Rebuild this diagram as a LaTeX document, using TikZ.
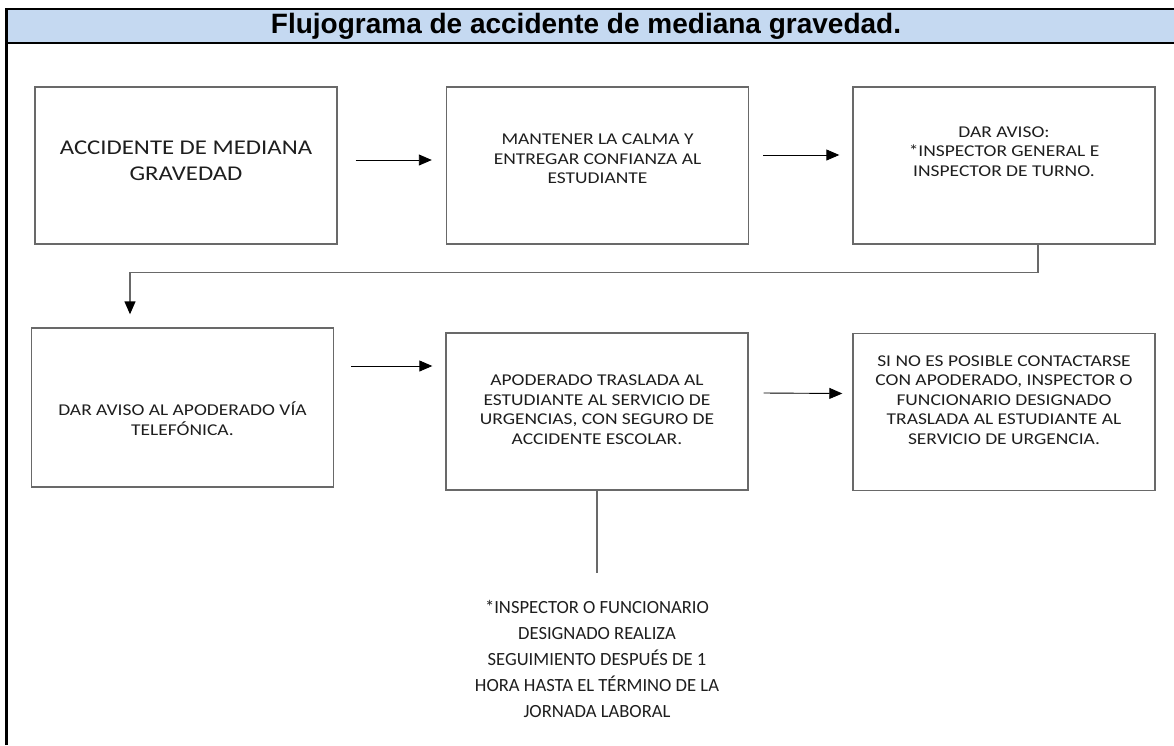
\documentclass[tikz,border=0pt]{standalone}
\usepackage{fontspec}
\setmainfont{Carlito}
\newfontfamily\fuentetitulo{Liberation Sans}
\newfontfamily\fuentecaja[FakeStretch=1.18]{Carlito}
\usepackage{tikz}
\usetikzlibrary{arrows.meta}
\definecolor{encabezado}{RGB}{197,217,241}
\definecolor{borde}{RGB}{105,105,105}
\definecolor{letra}{RGB}{30,30,30}

\begin{document}
\begin{tikzpicture}[x=1pt, y=-1pt,
    caja/.style={draw=borde, line width=1.4pt, minimum width=302pt, minimum height=157pt, inner sep=0pt},
    texto/.style={align=center, text=letra, inner sep=0pt, font=\fuentecaja\fontsize{16.5}{19.5}\selectfont},
    flecha/.style={line width=0.9pt, -{Triangle[length=13pt,width=11pt]}},
    linea/.style={draw=borde, line width=1.4pt}]
    \useasboundingbox (0,0) rectangle (1174,745);
    % encabezado
    \fill[encabezado] (6.5,9) rectangle (1174,43);
    \draw[line width=2.5pt] (6.5,745) -- (6.5,9) -- (1174,9);
    \draw[line width=2.5pt] (6.5,43) -- (1174,43);
    \node[font=\fuentetitulo\bfseries\fontsize{28}{30}\selectfont] (titulo) at (586,26) {Flujograma de accidente de mediana gravedad.};
    % primera fila
    \node[caja] (accidente) at (186,165.5) {};
    \node[texto, font=\fuentecaja\fontsize{21}{26}\selectfont] (taccidente) at ([yshift=4.5pt]accidente.center) {ACCIDENTE DE MEDIANA\\GRAVEDAD};
    \node[caja] (calma) at (597.5,165.5) {};
    \node[texto] (tcalma) at ([yshift=6.5pt]calma.center) {MANTENER LA CALMA Y\\ENTREGAR CONFIANZA AL\\ESTUDIANTE};
    \node[caja] (aviso) at (1004,165.5) {};
    \node[texto] (taviso) at ([yshift=14pt]aviso.center) {DAR AVISO:\\*INSPECTOR GENERAL E\\INSPECTOR DE TURNO.};
    % segunda fila
    \node[caja, minimum height=159pt] (apoderado) at (182.5,407.5) {};
    \node[texto] (tapoderado) at ([yshift=-11pt]apoderado.center) {DAR AVISO AL APODERADO V\'IA\\TELEF\'ONICA.};
    \node[caja] (traslado) at (597,411.5) {};
    \node[texto] (ttraslado) at ([yshift=2pt]traslado.center) {APODERADO TRASLADA AL\\ESTUDIANTE AL SERVICIO DE\\URGENCIAS, CON SEGURO DE\\ACCIDENTE ESCOLAR.};
    \node[caja] (urgencia) at (1004,412) {};
    \node[texto] (turgencia) at ([yshift=12pt]urgencia.center) {SI NO ES POSIBLE CONTACTARSE\\CON APODERADO, INSPECTOR O\\FUNCIONARIO DESIGNADO\\TRASLADA AL ESTUDIANTE AL\\SERVICIO DE URGENCIA.};
    % seguimiento
    \node[texto, font=\fontsize{18.6}{26}\selectfont] (seguimiento) at (597,659) {*INSPECTOR O FUNCIONARIO\\DESIGNADO REALIZA\\SEGUIMIENTO DESPU\'ES DE 1\\HORA HASTA EL T\'ERMINO DE LA\\JORNADA LABORAL};
    % conectores
    \draw[flecha] ([xshift=18pt,yshift=5.5pt]accidente.east) -- ([xshift=-14pt,yshift=5.5pt]calma.west);
    \draw[flecha] ([xshift=14pt,yshift=10.5pt]calma.east) -- ([xshift=-13pt,yshift=10.5pt]aviso.west);
    \draw[linea, -{Triangle[length=13pt,width=11pt,color=black]}] ([xshift=34pt]aviso.south) -- ++(0,28) -| ([xshift=-52.5pt,yshift=13pt]apoderado.north);
    \draw[flecha] ([xshift=17pt,yshift=41.5pt]apoderado.east) -- ([xshift=-13pt,yshift=45.5pt]traslado.west);
    \draw[flecha] ([xshift=15pt,yshift=18.5pt]traslado.east) -- ([xshift=-10pt,yshift=18.5pt]urgencia.west);
    \draw[linea] (traslado.south) -- ([yshift=27pt]seguimiento.north);
\end{tikzpicture}
\end{document}
